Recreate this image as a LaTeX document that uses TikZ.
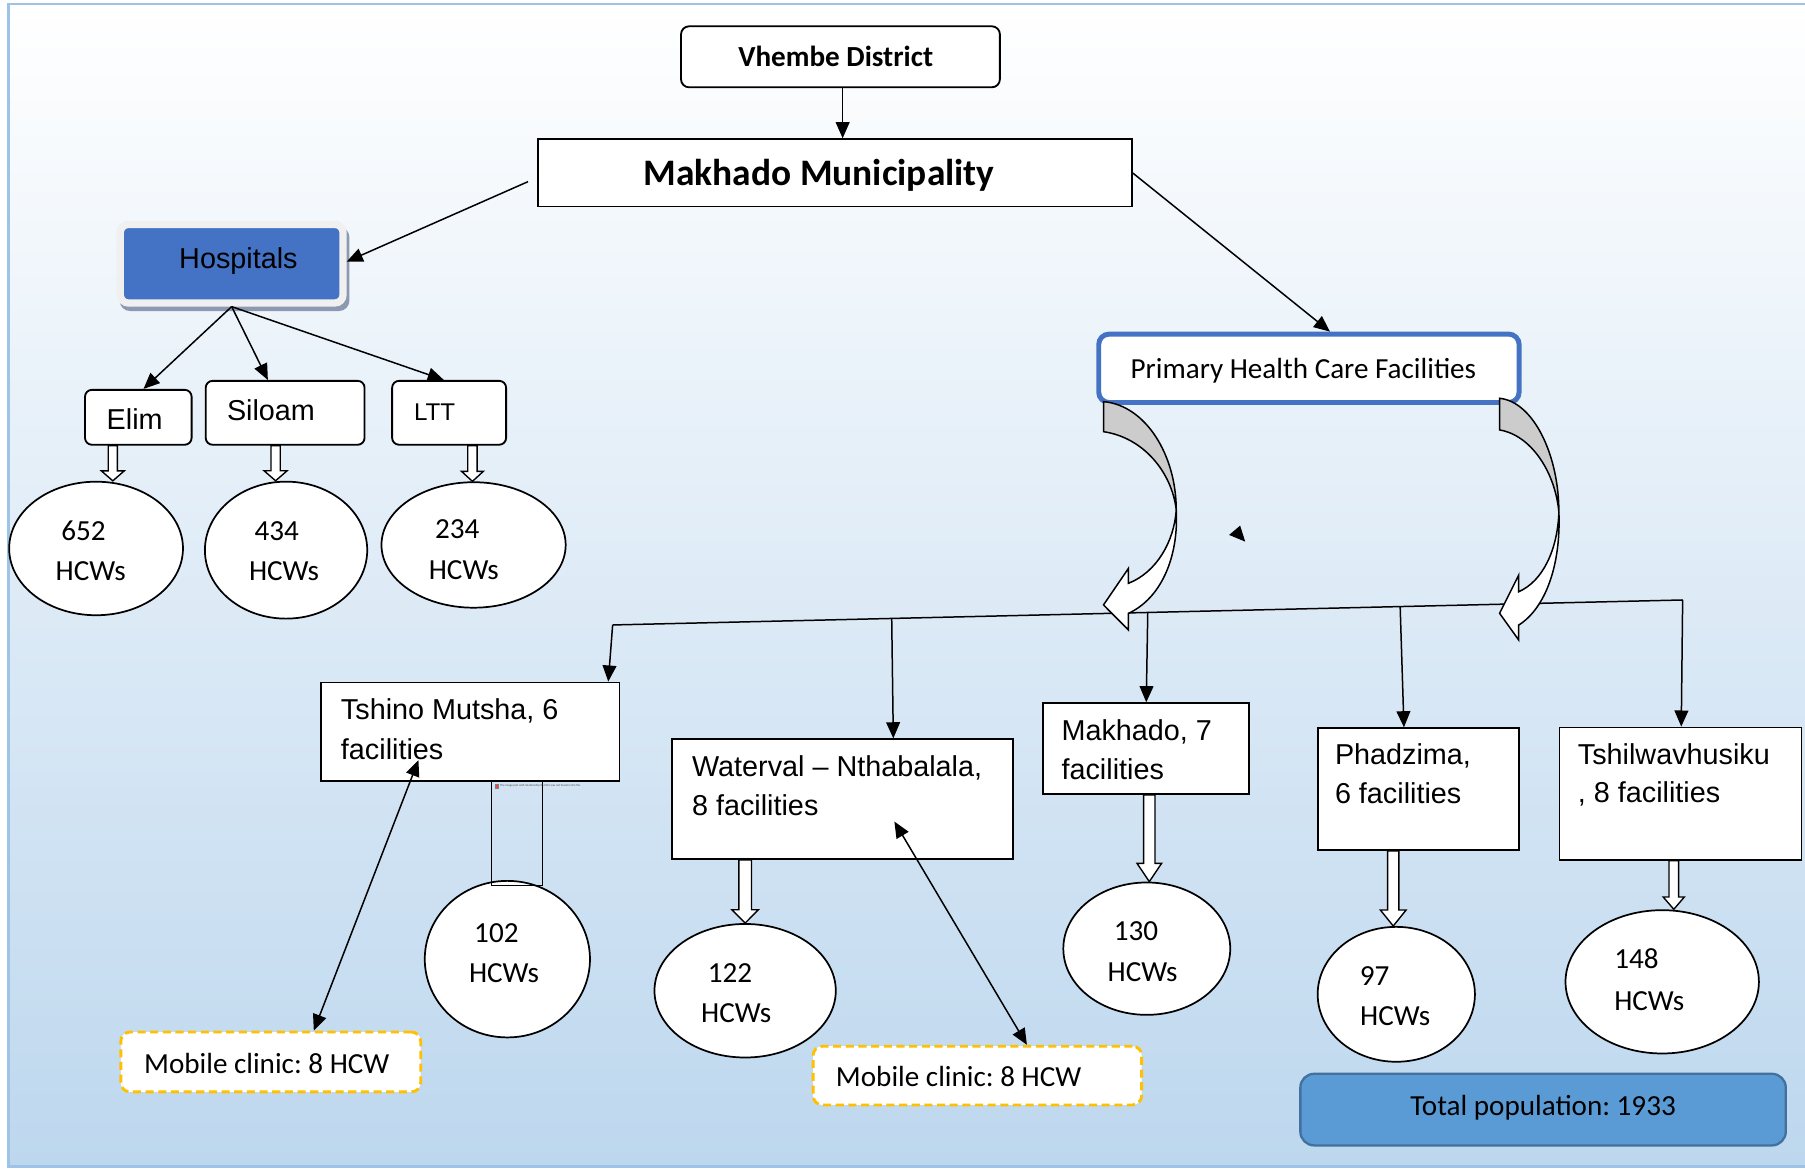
\documentclass[tikz,border=0pt]{standalone}
\usepackage{fontspec}
\setmainfont{Carlito}
\newfontfamily\arialf{Liberation Sans}
\usetikzlibrary{arrows.meta,shapes.geometric,calc}
\frenchspacing
\definecolor{bgblue}{HTML}{BDD7EE}
\definecolor{framec}{HTML}{9DC3E6}
\definecolor{hospblue}{HTML}{4472C4}
\definecolor{ringc}{HTML}{F0F0F0}
\definecolor{shadc}{HTML}{8C99B1}
\definecolor{phcblue}{HTML}{4472C4}
\definecolor{mobor}{HTML}{FFC000}
\definecolor{totfill}{HTML}{5B9BD5}
\definecolor{totdraw}{HTML}{41719C}
\definecolor{crvgrey}{HTML}{CCCCCC}
\newcommand{\hollowdn}[6]{%
  \path[hollow] let \p1=(#1.south), \p2=(#2.north) in
   ({#3pt-#4pt},\y1) -- ({#3pt+#4pt},\y1) -- ({#3pt+#4pt},{\y2+#6pt}) -- ({#3pt+#5pt},{\y2+#6pt})
   -- (#3pt,\y2) -- ({#3pt-#5pt},{\y2+#6pt}) -- ({#3pt-#4pt},{\y2+#6pt}) -- cycle;}
\tikzset{
  rbox/.style={draw, line width=1.6pt, fill=white, rounded corners=7pt, inner sep=0pt},
  sbox/.style={draw, line width=1.6pt, fill=white, inner sep=0pt},
  ell/.style={ellipse, draw, line width=1.5pt, fill=white, inner sep=0pt},
  cal/.style={font=\fontsize{25.3}{30}\selectfont, inner sep=0pt},
  calb/.style={font=\bfseries\fontsize{25.3}{30}\selectfont, inner sep=0pt},
  calbig/.style={font=\bfseries\fontsize{32.5}{38}\selectfont, inner sep=0pt},
  ari/.style={font=\arialf\fontsize{25}{30}\selectfont, inner sep=0pt},
  arr/.style={line width=1.3pt, -{Triangle[length=14pt,width=12pt]}},
  dbl/.style={line width=1.3pt, {Triangle[length=14pt,width=12pt]}-{Triangle[length=14pt,width=12pt]}},
  conn/.style={line width=1.3pt},
  hollow/.style={draw, fill=white, line width=1.2pt, line join=miter},
  mob/.style={draw=mobor, dash pattern=on 7pt off 4pt, line width=2.5pt, fill=white, rounded corners=8pt, inner sep=0pt},
  curv/.style={draw, line width=1.3pt, line join=miter}
}
\begin{document}
\begin{tikzpicture}[x=1pt,y=-1pt]
\useasboundingbox (0,0) rectangle (1568,1016);
% background and frame
\shade[top color=white, bottom color=bgblue] (7.3,3.5) rectangle (1568,1013.4);
\draw[framec, line width=2.5pt] (1568,3.5) -- (7.3,3.5) -- (7.3,1013.4) -- (1568,1013.4);

% top
\node[rbox, minimum width=277pt, minimum height=53pt] (vhem) at (730.1,49.35) {};
\node[calb, anchor=base] (vhemt) at (726,58) {Vhembe District};
\node[sbox, minimum width=516pt, minimum height=58.5pt] (makh) at (725.05,150.15) {};
\node[calbig, anchor=base] (makht) at (711.5,161) {Makhado Municipality};

% hospitals
\fill[shadc, rounded corners=9pt] (104,197) rectangle (303.5,270.2);
\node[draw=ringc, fill=hospblue, line width=6.3pt, rounded corners=7pt, minimum width=193.5pt, minimum height=68.2pt] (hosp) at (201.25,229.1) {};
\node[ari, anchor=base west] (hospt) at (155.5,233.1) {Hospitals};

\node[rbox, rounded corners=6pt, minimum width=92.6pt, minimum height=47.7pt] (elim) at (120.15,362.5) {};
\node[ari, anchor=base west] (elimt) at (92.5,373.5) {Elim};
\node[rbox, rounded corners=6pt, minimum width=138pt, minimum height=55.5pt] (sil) at (247.7,358.6) {};
\node[ari, anchor=base west] (silt) at (197,365.7) {Siloam};
\node[rbox, rounded corners=6pt, minimum width=99pt, minimum height=55.5pt] (ltt) at (390.15,358.6) {};
\node[ari, font=\arialf\fontsize{21}{25}\selectfont, anchor=base west] (lttt) at (359.5,365.6) {LTT};

\node[ell, minimum width=151pt, minimum height=116pt] (e652) at (83.45,476.45) {};
\node[cal, anchor=base] (e652a) at (72.5,469.5) {652};
\node[cal, anchor=base] (e652b) at (78.8,504.4) {HCWs};
\node[ell, minimum width=141pt, minimum height=119pt] (e434) at (248.5,477.9) {};
\node[cal, anchor=base] (e434a) at (240.4,469.5) {434};
\node[cal, anchor=base] (e434b) at (246.7,504.4) {HCWs};
\node[ell, minimum width=160pt, minimum height=109pt] (e234) at (411.4,473.4) {};
\node[cal, anchor=base] (e234a) at (397.3,468.2) {234};
\node[cal, anchor=base] (e234b) at (402.9,503.5) {HCWs};

% primary health care
\node[draw=phcblue, line width=4.3pt, fill=white, rounded corners=9pt, minimum width=365.2pt, minimum height=59.4pt] (phc) at (1137.05,319.95) {};
\node[cal, anchor=base west] (phct) at (982,328.6) {Primary Health Care Facilities};

% facility boxes
\node[sbox, minimum width=259pt, minimum height=85.3pt] (tsh) at (408.6,635.55) {};
\node[ari, anchor=base west] (tsht1) at (296,624.9) {Tshino Mutsha, 6};
\node[ari, anchor=base west] (tsht2) at (296,659.6) {facilities};
\node[sbox, minimum width=296.3pt, minimum height=104pt] (wat) at (732.15,694.2) {};
\node[ari, anchor=base west] (watt1) at (601,674.7) {Waterval – Nthabalala,};
\node[ari, anchor=base west] (watt2) at (601,708) {8 facilities};
\node[sbox, minimum width=179pt, minimum height=79pt] (mk7) at (995.6,650.35) {};
\node[ari, anchor=base west] (mk7t1) at (922,643.4) {Makhado, 7};
\node[ari, anchor=base west] (mk7t2) at (922,677) {facilities};
\node[sbox, minimum width=174.5pt, minimum height=105.8pt] (phd) at (1231.95,685.5) {};
\node[ari, anchor=base west] (phdt1) at (1159.5,664.5) {Phadzima,};
\node[ari, anchor=base west] (phdt2) at (1159.5,698.4) {6 facilities};
\node[sbox, minimum width=210.2pt, minimum height=114.8pt] (tsv) at (1459.8,689.4) {};
\node[ari, anchor=base west] (tsvt1) at (1370.5,664) {Tshilwavhusiku};
\node[ari, anchor=base west] (tsvt2) at (1370.5,697.3) {, 8 facilities};

% HCW ellipses lower
\node[ell, minimum width=143.5pt, minimum height=136pt] (e102) at (440.75,833.2) {};
\node[cal, anchor=base] (e102a) at (431.2,818.5) {102};
\node[cal, anchor=base] (e102b) at (437.8,853.3) {HCWs};
\node[ell, minimum width=157.5pt, minimum height=116pt] (e122) at (647.3,860.65) {};
\node[cal, anchor=base] (e122a) at (634.2,853.3) {122};
\node[cal, anchor=base] (e122b) at (639.5,888) {HCWs};
\node[ell, minimum width=145pt, minimum height=115pt] (e130) at (996.2,824.1) {};
\node[cal, anchor=base] (e130a) at (986.8,817.1) {130};
\node[cal, anchor=base] (e130b) at (992.6,852.7) {HCWs};
\node[ell, minimum width=136.6pt, minimum height=117.2pt] (e97) at (1212.95,863.75) {};
\node[cal, anchor=base] (e97a) at (1194.2,856.2) {97};
\node[cal, anchor=base] (e97b) at (1212,890.9) {HCWs};
\node[ell, minimum width=168pt, minimum height=124.5pt] (e148) at (1443.95,852.9) {};
\node[cal, anchor=base] (e148a) at (1421.6,841.1) {148};
\node[cal, anchor=base] (e148b) at (1432.7,877.9) {HCWs};

% mobile clinics and total
\node[mob, minimum width=260.5pt, minimum height=52pt] (mob1) at (235.2,922.5) {};
\node[cal, anchor=base west] (mob1t) at (125,932.4) {Mobile clinic: 8 HCW};
\node[mob, minimum width=285.4pt, minimum height=51pt] (mob2) at (849.05,934.35) {};
\node[cal, anchor=base west] (mob2t) at (726,944) {Mobile clinic: 8 HCW};
\node[draw=totdraw, fill=totfill, line width=2pt, rounded corners=12pt, minimum width=421.7pt, minimum height=62.2pt] (tot) at (1340.45,963.9) {};
\node[cal, anchor=base] (tott) at (1340.5,968.6) {Total population: 1933};

% connectors top
\coordinate (mhs) at (458.7,157.8);
\draw[arr] ([xshift=1.9pt]vhem.south) -- ([xshift=1.9pt]vhem.south |- makh.north);
\draw[arr] (mhs) -- ([yshift=1.8pt]hosp.east);
\draw[arr] (makh.east) -- ([xshift=18.3pt]phc.north);
\draw[arr] (hosp.south) -- ([xshift=4.5pt]elim.north);
\draw[arr] (hosp.south) -- ([xshift=-15pt]sil.north);
\draw[arr] (hosp.south) -- ([xshift=-4.6pt]ltt.north);

% distribution line
\coordinate (j0) at (532.2,542.9);
\coordinate (j5) at (1461.7,521.2);
\coordinate (jw) at ($(j0)!0.2608!(j5)$);
\coordinate (jm) at ($(j0)!0.5001!(j5)$);
\coordinate (jp) at ($(j0)!0.7360!(j5)$);
\draw[conn] (j0) -- (j5);
\draw[arr] (j0) -- ([xshift=-3.8pt]j0 |- tsh.north);
\draw[arr] (jw) -- ([xshift=1.4pt]jw |- wat.north);
\draw[arr] (jm) -- ([xshift=-1.3pt]jm |- mk7.north);
\draw[arr] (jp) -- ([xshift=3.3pt]jp |- phd.north);
\draw[arr] (j5) -- ([xshift=-1.2pt]j5 |- tsv.north);

% block arrows
\hollowdn{elim}{e652}{98}{4}{10}{8.7}
\hollowdn{sil}{e434}{239.4}{4}{10}{8.7}
\hollowdn{ltt}{e234}{410.4}{4.1}{9.5}{8.7}
\hollowdn{wat}{e122}{647.3}{5.5}{11.5}{11.6}
\hollowdn{mk7}{e130}{998.4}{4.9}{10.7}{15.9}
\hollowdn{phd}{e97}{1210.3}{4.9}{11.2}{13.9}
\hollowdn{tsv}{e148}{1454}{4.2}{9.2}{10.7}

% mobile clinic arrows
\draw[dbl] ([shift={(-45.1,24.7)}]tsh.center) -- ([xshift=37.4pt]mob1.north);
\draw[dbl] ([shift={(44.8,19.5)}]wat.center) -- ([xshift=43pt]mob2.north);

% curved arrows from PHC
\path[curv, fill=crvgrey] (958.6,348.9) .. controls (995,352) and (1021.8,395) .. (1021.8,443)
  .. controls (1018,410) and (993,380) .. (958.6,375) -- cycle;
\path[curv, fill=white] (1021.8,443) .. controls (1020,470) and (1005,497) .. (980.3,506.7)
  -- (980.3,493.7) -- (958.6,525.5) -- (980.3,547.3) -- (980.3,532.8)
  .. controls (1008,520) and (1024,485) .. (1021.8,443) -- cycle;
\path[curv, fill=crvgrey] (1302.7,346) .. controls (1332,349) and (1354.2,395) .. (1354.2,445)
  .. controls (1351,410) and (1330,378) .. (1302.7,373.5) -- cycle;
\path[curv, fill=white] (1354.2,445) .. controls (1353,478) and (1340,505) .. (1319.3,514)
  -- (1319.3,499.5) -- (1302.7,532.8) -- (1319.3,556) -- (1319.3,543)
  .. controls (1343,528) and (1356,490) .. (1354.2,445) -- cycle;

% stray arrowhead
\fill (1077.3,456.6) -- (1067.7,464.7) -- (1081.7,470.5) -- cycle;

% missing-image placeholder
\node[draw, line width=0.8pt, minimum width=44.3pt, minimum height=90.4pt] (ph) at (449.25,723.6) {};
\fill[red!75, draw=gray, line width=0.3pt] (430,681.3) rectangle (433,684.8);
\node[font=\fontsize{2.6}{3}\selectfont, anchor=base west, text=black!70, inner sep=0pt] (pht) at (434.3,683.6) {The image part with relationship ID rId12 was not found in the file.};
\end{tikzpicture}
\end{document}
